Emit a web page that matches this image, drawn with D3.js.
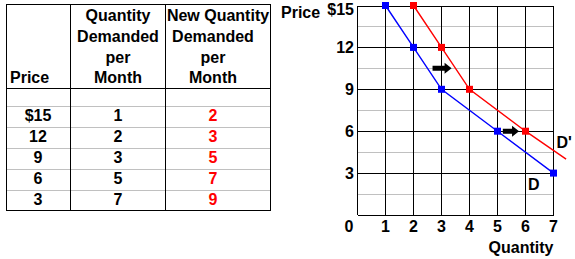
<!DOCTYPE html>
<html>
<head>
<meta charset="utf-8">
<script src="https://cdn.jsdelivr.net/npm/d3@7"></script>
<style>
  body { margin: 0; background: #fff; }
  svg text { font-family: "Liberation Sans", Arial, sans-serif; font-size: 16px; font-weight: bold; }
</style>
</head>
<body>
<div id="chart"></div>
<script>
// table data
var tablePrices = ["$15", "12", "9", "6", "3"];
var tableQty = ["1", "2", "3", "5", "7"];
var tableNewQty = ["2", "3", "5", "7", "9"];
var qtyHeader = ["Quantity", "Demanded", "per", "Month"];
var newQtyHeader = ["New Quantity", "Demanded", "per", "Month"];

// chart data
var dPrices = [15, 12, 9, 6, 3];
var dQty = [1, 2, 3, 5, 7];
var dNewPrices = [15, 12, 9, 6];
var dNewQty = [2, 3, 4, 6];
var dNewEnd = [7.45, 4.0]; // line runs on past the last point
var xTicks = [1, 2, 3, 4, 5, 6, 7];
var yTicks = [3, 6, 9, 12, 15];
var yMinor = [1.5, 4.5, 7.5, 10.5, 13.5];
var yTickLabels = ["3", "6", "9", "12", "$15"];
var arrowFrom = [2.68, 5.19];
var arrowTo = [3.36, 5.77];
var arrowPrice = [10.5, 6];

var svg = d3.select("#chart").append("svg")
  .attr("width", 575)
  .attr("height", 259);

// ---------- table ----------
var tbl = { left: 6.5, right: 270.5, top: 4.5, head: 88.5, first: 105.5, bottom: 210.5 };
var colLines = [70.5, 165.5];
var rowY = d3.scaleBand().domain(d3.range(tablePrices.length)).range([tbl.first, tbl.bottom]);
var headY = d3.scaleLinear().domain([0, 3]).range([21, 83.3]);

var tg = svg.append("g").attr("class", "table");

// gray row lines
tg.selectAll(".rowline")
  .data(d3.range(tablePrices.length))
  .enter().append("line")
  .attr("x1", tbl.left).attr("x2", tbl.right)
  .attr("y1", function(d) { return Math.round(rowY(d)) + 0.5; })
  .attr("y2", function(d) { return Math.round(rowY(d)) + 0.5; })
  .attr("stroke", "#c0c0c0");

tg.append("line")
  .attr("x1", tbl.left).attr("x2", tbl.right)
  .attr("y1", tbl.head).attr("y2", tbl.head)
  .attr("stroke", "#000");

tg.selectAll(".colline")
  .data(colLines)
  .enter().append("line")
  .attr("x1", function(d) { return d; }).attr("x2", function(d) { return d; })
  .attr("y1", tbl.top).attr("y2", tbl.bottom)
  .attr("stroke", "#000");

tg.append("rect")
  .attr("x", tbl.left).attr("y", tbl.top)
  .attr("width", tbl.right - tbl.left).attr("height", tbl.bottom - tbl.top)
  .attr("fill", "none").attr("stroke", "#000");

// headers
tg.append("text").attr("x", 10).attr("y", headY(3)).text("Price");

tg.selectAll(".h2")
  .data(qtyHeader)
  .enter().append("text")
  .attr("x", 118).attr("y", function(d, i) { return headY(i); })
  .attr("text-anchor", "middle")
  .text(function(d) { return d; });

tg.selectAll(".h3")
  .data(newQtyHeader)
  .enter().append("text")
  .attr("x", function(d, i) { return i == 0 ? 218 : 213; })
  .attr("y", function(d, i) { return headY(i); })
  .attr("text-anchor", "middle")
  .text(function(d) { return d; });

// cells
function cellCol(arr, cx, color) {
  tg.append("g").selectAll("text")
    .data(arr)
    .enter().append("text")
    .attr("x", cx)
    .attr("y", function(d, i) { return rowY(i) + 15.7; })
    .attr("text-anchor", "middle")
    .attr("fill", color)
    .text(function(d) { return d; });
}
cellCol(tablePrices, 38, "#000");
cellCol(tableQty, 118, "#000");
cellCol(tableNewQty, 213, "#ff0000");

// ---------- chart ----------
var x = d3.scaleLinear().domain([0, 7]).range([357.5, 553.5]);
var y = d3.scaleLinear().domain([0, 15]).range([215, 5.5]);

var cg = svg.append("g").attr("class", "plot").attr("shape-rendering", "crispEdges");

cg.selectAll(".minor")
  .data(yMinor)
  .enter().append("line")
  .attr("x1", x(0)).attr("x2", x(7))
  .attr("y1", function(d) { return Math.round(y(d)) + 0.5; })
  .attr("y2", function(d) { return Math.round(y(d)) + 0.5; })
  .attr("stroke", "#c0c0c0");

cg.selectAll(".ygrid")
  .data([0].concat(yTicks))
  .enter().append("line")
  .attr("x1", x(0)).attr("x2", x(7))
  .attr("y1", function(d) { return Math.round(y(d)) + 0.5; })
  .attr("y2", function(d) { return Math.round(y(d)) + 0.5; })
  .attr("stroke", "#000");

cg.selectAll(".xgrid")
  .data([0].concat(xTicks))
  .enter().append("line")
  .attr("x1", function(d) { return Math.round(x(d) - 0.5) + 0.5; })
  .attr("x2", function(d) { return Math.round(x(d) - 0.5) + 0.5; })
  .attr("y1", y(15)).attr("y2", y(0))
  .attr("stroke", "#000");

// tick labels
svg.append("g").selectAll("text")
  .data(yTicks)
  .enter().append("text")
  .attr("x", 354)
  .attr("y", function(d) { return Math.max(y(d), 9.5) + 5.7; })
  .attr("text-anchor", "end")
  .text(function(d, i) { return yTickLabels[i]; });

svg.append("g").selectAll("text")
  .data(xTicks)
  .enter().append("text")
  .attr("x", function(d) { return x(d); })
  .attr("y", 231.5)
  .attr("text-anchor", "middle")
  .text(function(d) { return d; });

svg.append("text").attr("x", 349).attr("y", 231.5).attr("text-anchor", "middle").text("0");
svg.append("text").attr("x", 281).attr("y", 17.5).text("Price");
svg.append("text").attr("x", x(7)).attr("y", 253).attr("text-anchor", "end").text("Quantity");

// demand curves
var line = d3.line().x(function(d) { return x(d[0]); }).y(function(d) { return y(d[1]); });
var dPts = dQty.map(function(q, i) { return [q, dPrices[i]]; });
var dNewPts = dNewQty.map(function(q, i) { return [q, dNewPrices[i]]; });

svg.append("path").attr("d", line(dNewPts.concat([dNewEnd])))
  .attr("fill", "none").attr("stroke", "#ff0000").attr("stroke-width", 1.4);
svg.append("path").attr("d", line(dPts))
  .attr("fill", "none").attr("stroke", "#0000ff").attr("stroke-width", 1.4);

var sq = 7;
svg.append("g").selectAll("rect")
  .data(dPts)
  .enter().append("rect")
  .attr("x", function(d) { return x(d[0]) - sq / 2; })
  .attr("y", function(d) { return y(d[1]) - sq / 2; })
  .attr("width", sq).attr("height", sq)
  .attr("fill", "#0000ff");

svg.append("g").selectAll("rect")
  .data(dNewPts)
  .enter().append("rect")
  .attr("x", function(d) { return x(d[0]) - sq / 2; })
  .attr("y", function(d) { return y(d[1]) - sq / 2; })
  .attr("width", sq).attr("height", sq)
  .attr("fill", "#ff0000");

// shift arrows
svg.append("g").selectAll("path")
  .data(arrowFrom)
  .enter().append("path")
  .attr("d", function(d, i) {
    var x1 = x(d), x2 = x(arrowTo[i]), yy = y(arrowPrice[i]);
    var hx = x2 - 7;
    return "M" + x1 + "," + (yy - 2.5) + "L" + hx + "," + (yy - 2.5) +
      "L" + hx + "," + (yy - 5.5) + "L" + x2 + "," + yy +
      "L" + hx + "," + (yy + 5.5) + "L" + hx + "," + (yy + 2.5) +
      "L" + x1 + "," + (yy + 2.5) + "Z";
  })
  .attr("fill", "#000");

svg.append("text").attr("x", 528).attr("y", 189.5).text("D");
svg.append("text").attr("x", 556.5).attr("y", 147.5).text("D'");
</script>
</body>
</html>
